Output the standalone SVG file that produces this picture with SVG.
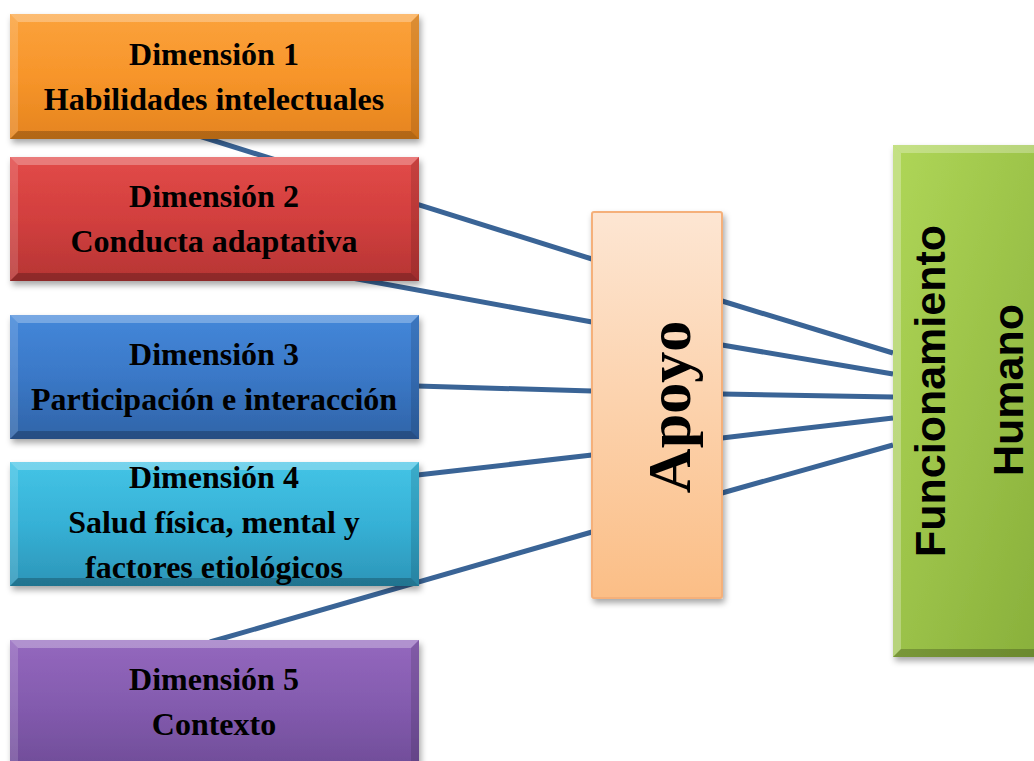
<svg xmlns="http://www.w3.org/2000/svg" width="1034" height="761" viewBox="0 0 1034 761">
  <defs>
    <filter id="sh" x="-10%" y="-10%" width="125%" height="130%">
      <feDropShadow dx="2" dy="4" stdDeviation="3" flood-color="#000" flood-opacity="0.35"/>
    </filter>
    <linearGradient id="gOrange" x1="0" y1="0" x2="0" y2="1">
      <stop offset="0" stop-color="#FBA23C"/>
      <stop offset="0.5" stop-color="#F7952A"/>
      <stop offset="1" stop-color="#E5841E"/>
    </linearGradient>
    <linearGradient id="gRed" x1="0" y1="0" x2="0" y2="1">
      <stop offset="0" stop-color="#E24A48"/>
      <stop offset="0.5" stop-color="#D23F3E"/>
      <stop offset="1" stop-color="#B63534"/>
    </linearGradient>
    <linearGradient id="gBlue" x1="0" y1="0" x2="0" y2="1">
      <stop offset="0" stop-color="#4487D9"/>
      <stop offset="0.5" stop-color="#3A78C7"/>
      <stop offset="1" stop-color="#3064A8"/>
    </linearGradient>
    <linearGradient id="gCyan" x1="0" y1="0" x2="0" y2="1">
      <stop offset="0" stop-color="#44C4E6"/>
      <stop offset="0.5" stop-color="#36B1D6"/>
      <stop offset="1" stop-color="#2C95B8"/>
    </linearGradient>
    <linearGradient id="gPurple" x1="0" y1="0" x2="0" y2="1">
      <stop offset="0" stop-color="#9468BE"/>
      <stop offset="0.5" stop-color="#825AAD"/>
      <stop offset="1" stop-color="#6C4A94"/>
    </linearGradient>
    <linearGradient id="gPeach" x1="0" y1="0" x2="0" y2="1">
      <stop offset="0" stop-color="#FDE6D3"/>
      <stop offset="1" stop-color="#FBBE86"/>
    </linearGradient>
    <linearGradient id="gGreen" x1="0" y1="0" x2="1" y2="1">
      <stop offset="0" stop-color="#AFD657"/>
      <stop offset="1" stop-color="#87AE3A"/>
    </linearGradient>
    <style>
      .lbl { font-family: "Liberation Serif", "Times New Roman", serif; font-weight: bold; font-size: 32px; fill: #000; text-anchor: middle; }
      .big { font-family: "Liberation Serif", "Times New Roman", serif; font-weight: bold; font-size: 62px; fill: #000; text-anchor: middle; }
      .sans { font-family: "Liberation Sans", Arial, sans-serif; font-weight: bold; font-size: 43px; fill: #000; text-anchor: middle; }
      .conn { stroke: #3A6496; stroke-width: 5; fill: none; stroke-linecap: butt; }
      .hl { fill: #FFFFFF; opacity: 0.28; }
      .hl2 { fill: #FFFFFF; opacity: 0.14; }
      .dk { fill: #000000; opacity: 0.22; }
      .dk2 { fill: #000000; opacity: 0.12; }
    </style>
  </defs>

  <g id="connectors">
    <line class="conn" x1="180" y1="130" x2="592" y2="259"/>
    <line class="conn" x1="330" y1="274" x2="592" y2="322"/>
    <line class="conn" x1="400" y1="385.5" x2="592" y2="391"/>
    <line class="conn" x1="400" y1="477" x2="592" y2="455"/>
    <line class="conn" x1="210" y1="642" x2="592" y2="532"/>
    <line class="conn" x1="722" y1="301" x2="893" y2="353"/>
    <line class="conn" x1="722" y1="345" x2="893" y2="374"/>
    <line class="conn" x1="722" y1="394" x2="893" y2="397"/>
    <line class="conn" x1="722" y1="438" x2="893" y2="418"/>
    <line class="conn" x1="722" y1="493" x2="893" y2="445"/>
  </g>

  <g id="dim1">
    <rect x="10" y="14" width="409" height="125" fill="url(#gOrange)" filter="url(#sh)"/>
    <polygon class="hl" points="10,14 419,14 411,22 18,22"/>
    <polygon class="hl2" points="10,14 18,22 18,131 10,139"/>
    <polygon class="dk" points="10,139 18,131 411,131 419,139"/>
    <polygon class="dk2" points="419,14 419,139 411,131 411,22"/>
    <text class="lbl" x="214" y="65">Dimensión 1</text>
    <text class="lbl" x="214" y="110">Habilidades intelectuales</text>
  </g>

  <g id="dim2">
    <rect x="10" y="157" width="409" height="124" fill="url(#gRed)" filter="url(#sh)"/>
    <polygon class="hl" points="10,157 419,157 411,165 18,165"/>
    <polygon class="hl2" points="10,157 18,165 18,273 10,281"/>
    <polygon class="dk" points="10,281 18,273 411,273 419,281"/>
    <polygon class="dk2" points="419,157 419,281 411,273 411,165"/>
    <text class="lbl" x="214" y="207">Dimensión 2</text>
    <text class="lbl" x="214" y="252">Conducta adaptativa</text>
  </g>

  <g id="dim3">
    <rect x="10" y="315" width="409" height="124" fill="url(#gBlue)" filter="url(#sh)"/>
    <polygon class="hl" points="10,315 419,315 411,323 18,323"/>
    <polygon class="hl2" points="10,315 18,323 18,431 10,439"/>
    <polygon class="dk" points="10,439 18,431 411,431 419,439"/>
    <polygon class="dk2" points="419,315 419,439 411,431 411,323"/>
    <text class="lbl" x="214" y="365">Dimensión 3</text>
    <text class="lbl" x="214" y="410">Participación e interacción</text>
  </g>

  <g id="dim4">
    <rect x="10" y="462" width="409" height="124" fill="url(#gCyan)" filter="url(#sh)"/>
    <polygon class="hl" points="10,462 419,462 411,470 18,470"/>
    <polygon class="hl2" points="10,462 18,470 18,578 10,586"/>
    <polygon class="dk" points="10,586 18,578 411,578 419,586"/>
    <polygon class="dk2" points="419,462 419,586 411,578 411,470"/>
    <text class="lbl" x="214" y="488">Dimensión 4</text>
    <text class="lbl" x="214" y="533">Salud física, mental y</text>
    <text class="lbl" x="214" y="578">factores etiológicos</text>
  </g>

  <g id="dim5">
    <rect x="10" y="640" width="409" height="140" fill="url(#gPurple)" filter="url(#sh)"/>
    <polygon class="hl" points="10,640 419,640 411,648 18,648"/>
    <polygon class="hl2" points="10,640 18,648 18,780 10,780"/>
    <polygon class="dk2" points="419,640 419,780 411,780 411,648"/>
    <text class="lbl" x="214" y="690">Dimensión 5</text>
    <text class="lbl" x="214" y="735">Contexto</text>
  </g>

  <g id="apoyo">
    <rect x="592" y="212" width="130" height="386" rx="2" fill="url(#gPeach)" stroke="#F5B07A" stroke-width="2" filter="url(#sh)"/>
    <text class="big" transform="translate(690,407) rotate(-90)" x="0" y="0">Apoyo</text>
  </g>

  <g id="funcionamiento">
    <rect x="893" y="145" width="160" height="512" fill="url(#gGreen)" filter="url(#sh)"/>
    <polygon class="hl" points="893,145 1053,145 1045,153 901,153"/>
    <polygon class="hl" points="893,145 901,153 901,649 893,657"/>
    <polygon class="dk" points="893,657 901,649 1045,649 1053,657"/>
    <text class="sans" transform="translate(945,391) rotate(-90)" x="0" y="0">Funcionamiento</text>
    <text class="sans" transform="translate(1023,390) rotate(-90)" x="0" y="0">Humano</text>
  </g>
</svg>
